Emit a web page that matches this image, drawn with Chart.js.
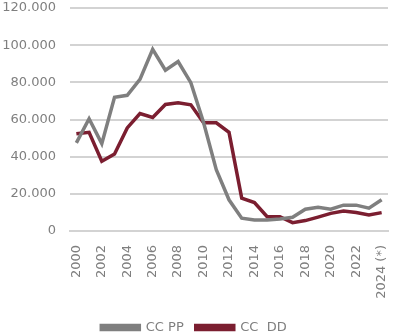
<!DOCTYPE html>
<html lang="es">
<head>
  <meta charset="UTF-8">
  <title>CC PP / CC DD</title>
  <script src="https://cdn.jsdelivr.net/npm/chart.js"></script>
  <style>
    html, body { margin: 0; padding: 0; background: #fff; }
    #wrap { width: 393px; height: 334px; }
  </style>
</head>
<body>
  <div id="wrap"><canvas id="grafico"></canvas></div>

  <script>
    // años (el último es provisional)
    const years = ['2000','2001','2002','2003','2004','2005','2006','2007','2008','2009',
                   '2010','2011','2012','2013','2014','2015','2016','2017','2018','2019',
                   '2020','2021','2022','2023','2024 (*)'];

    // CC PP
    const ccPP = [47400, 60400, 47000, 72000, 73000, 81600, 97800, 86500, 91200, 79800,
                  58400, 33000, 16800, 6900, 5900, 5900, 6500, 7400, 11700, 12800,
                  11700, 13900, 13900, 12300, 16800];

    // CC DD
    const ccDD = [52300, 53100, 37500, 41400, 55500, 63200, 61100, 68100, 69000, 67900,
                  58200, 58200, 53100, 17700, 15300, 7700, 7700, 4500, 5600, 7500,
                  9500, 10800, 9900, 8600, 9900];

    const gris = '#7f7f7f';
    const granate = '#7b1e30';
    const rejilla = '#d3d3d3';
    const fuente = { family: 'DejaVu Sans', size: 13 };

    // separador de miles con punto
    function fmt(v) {
      return String(v).replace(/\B(?=(\d{3})+(?!\d))/g, '.');
    }

    const ctx = document.getElementById('grafico').getContext('2d');
    new Chart(ctx, {
      type: 'line',
      data: {
        labels: years,
        datasets: [
          { label: 'CC PP', data: ccPP, borderColor: gris, backgroundColor: gris,
            borderWidth: 3.5, pointRadius: 0, tension: 0 },
          { label: 'CC  DD', data: ccDD, borderColor: granate, backgroundColor: granate,
            borderWidth: 3.5, pointRadius: 0, tension: 0 }
        ]
      },
      options: {
        responsive: true,
        maintainAspectRatio: false,
        animation: false,
        layout: { padding: { left: 0, right: 5, top: 0, bottom: -10 } },
        plugins: {
          legend: {
            position: 'bottom',
            labels: { boxWidth: 38, boxHeight: 4, color: gris, font: fuente, padding: 12 }
          },
          tooltip: { enabled: false }
        },
        scales: {
          x: {
            offset: true,
            grid: { display: false },
            border: { color: rejilla, width: 2 },
            ticks: {
              autoSkip: false, minRotation: 90, maxRotation: 90, padding: 6,
              color: gris, font: fuente,
              // solo años pares
              callback: function(val, i) { return i % 2 === 0 ? this.getLabelForValue(val) : ''; }
            },
            afterFit: s => { s.paddingLeft = 0; s.paddingRight = 0; s.height = 78; }
          },
          y: {
            min: 0, max: 120000,
            grid: { color: rejilla, lineWidth: 2, drawTicks: false },
            border: { display: false },
            ticks: { stepSize: 20000, padding: 14, color: gris, font: fuente, callback: v => fmt(v) },
            afterFit: s => { s.paddingTop = 8; s.paddingBottom = 0; s.width = 70; }
          }
        }
      }
    });
  </script>
</body>
</html>
